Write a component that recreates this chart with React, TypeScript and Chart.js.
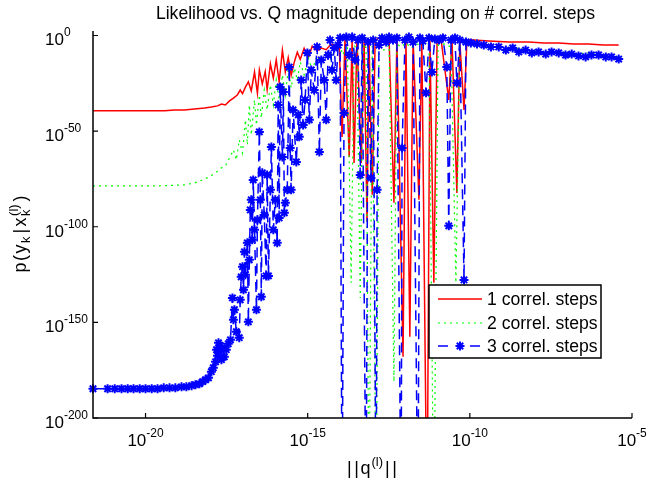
import { useEffect, useRef } from 'react';
import { Chart, registerables } from 'chart.js';

Chart.register(...registerables);

const FONT = '"Liberation Sans", Arial, Helvetica, sans-serif';

const TITLE = 'Likelihood vs. Q magnitude depending on # correl. steps';
const SERIES_NAMES = ['1 correl. steps', '2 correl. steps', '3 correl. steps'];
const X_TICK_EXPONENTS = [-20, -15, -10, -5];
const Y_TICK_EXPONENTS = [0, -50, -100, -150, -200];
const X_MIN_EXP = -21.62;
const X_MAX_EXP = -5;
const Y_MIN_EXP = -200;
const Y_MAX_EXP = 2.35;

// values stored as log10 exponents (x = ||q||, y = likelihood); -260 = below axis floor
const redLogX = [-21.62,-20.80,-19.87,-19.41,-19.11,-18.80,-18.49,-18.18,-17.97,-17.78,
  -17.66,-17.54,-17.41,-17.29,-17.17,-17.08,-17.01,-16.92,-16.83,-16.74,
  -16.64,-16.55,-16.49,-16.40,-16.31,-16.25,-16.15,-16.06,-15.97,-15.88,
  -15.78,-15.69,-15.60,-15.51,-15.41,-15.32,-15.23,-15.11,-14.98,-14.86,
  -14.71,-14.58,-14.43,-14.28,-14.15,-14.03,-13.94,-13.85,-13.72,-13.63,
  -13.57,-13.48,-13.35,-13.26,-13.17,-13.11,-13.01,-12.92,-12.80,-12.65,
  -12.49,-12.34,-12.25,-12.06,-11.97,-11.85,-11.75,-11.57,-11.48,-11.32,
  -11.23,-11.11,-11.01,-10.89,-10.65,-10.55,-10.40,-10.31,-10.18,-10.09,
  -9.88,-9.41,-8.80,-8.18,-7.72,-7.26,-6.80,-6.34,-5.88,-5.41];
const redLogY = [-39.4,-39.4,-39.4,-39.4,-38.9,-38.9,-38.4,-37.9,-37.4,-36.8,
  -35.8,-36.3,-34.2,-32.7,-31.1,-28.5,-30.4,-27.0,-24.2,-29.0,
  -19.1,-30.2,-18.0,-25.3,-18.9,-28.3,-14.8,-22.3,-12.8,-24.2,
  -7.7,-19.1,-11.6,-20.9,-13.7,-8.8,-12.5,-6.7,-11.5,-5.6,
  -8.0,-6.6,-7.4,-4.5,-5.4,-2.4,-53.0,-1.8,-63.5,-2.4,
  -66.6,-1.3,-66.6,-2.4,-97.4,-1.8,-83.3,-2.4,-1.3,-3.4,
  -1.8,-87.5,-1.3,-168.0,-2.4,-157.5,-1.8,-85.9,-2.4,-260,
  -2.9,-129.3,-2.4,-1.8,-33.7,-2.4,-82.3,-2.9,-38.9,-2.4,
  -2.4,-2.9,-3.4,-3.4,-3.9,-3.9,-4.4,-4.4,-5.0,-5.0];

const greenLogX = [-21.62,-20.49,-19.57,-18.80,-18.49,-18.24,-18.03,-17.84,-17.66,-17.54,
  -17.41,-17.29,-17.20,-17.11,-17.01,-16.92,-16.86,-16.80,-16.74,-16.64,
  -16.58,-16.49,-16.43,-16.34,-16.25,-16.15,-16.06,-15.97,-15.88,-15.78,
  -15.69,-15.60,-15.51,-15.41,-15.32,-15.23,-15.11,-14.98,-14.86,-14.71,
  -14.58,-14.43,-14.28,-14.15,-14.03,-13.91,-13.78,-13.66,-13.57,-13.48,
  -13.38,-13.29,-13.20,-13.11,-13.01,-12.89,-12.80,-12.65,-12.49,-12.34,
  -12.25,-12.12,-11.97,-11.81,-11.63,-11.45,-11.26,-11.11,-10.98,-10.80,
  -10.58,-10.43,-10.31,-10.15,-9.97,-9.72,-9.41,-9.11,-8.80,-8.49,
  -8.18,-7.72,-7.26,-6.80,-6.34,-6.03,-5.72,-5.41];
const greenLogY = [-78.6,-78.6,-78.6,-78.1,-77.1,-75.5,-73.9,-71.8,-69.2,-68.2,
  -64.0,-59.8,-65.0,-54.6,-61.4,-44.1,-57.2,-36.3,-52.0,-33.7,
  -46.8,-31.1,-43.1,-28.5,-38.9,-25.9,-36.3,-23.3,-33.7,-20.6,
  -31.1,-18.0,-27.4,-17.0,-23.3,-13.8,-20.6,-11.8,-18.0,-10.7,
  -15.4,-8.6,-12.8,-6.5,-5.0,-10.2,-3.4,-129.3,-5.0,-7.6,
  -137.2,-4.4,-6.5,-260,-5.5,-260,-4.4,-7.6,-5.0,-181.0,
  -4.4,-6.0,-3.9,-6.5,-4.4,-5.5,-3.9,-260,-5.0,-4.4,
  -6.0,-129.3,-5.5,-4.4,-5.5,-5.0,-6.5,-5.5,-7.6,-6.5,
  -7.6,-8.6,-8.1,-9.7,-9.1,-10.2,-9.7,-11.2];

const blueLogX = [-21.62,-21.17,-20.95,-20.74,-20.55,-20.37,-20.18,-20.00,-19.81,-19.63,
  -19.44,-19.26,-19.08,-18.89,-18.74,-18.58,-18.46,-18.34,-18.24,-18.15,
  -18.06,-17.97,-17.91,-17.84,-17.81,-17.78,-17.75,-17.72,-17.69,-17.66,
  -17.63,-17.57,-17.51,-17.45,-17.38,-17.32,-17.29,-17.26,-17.20,-17.11,
  -17.08,-17.05,-17.01,-16.98,-16.95,-16.92,-16.86,-16.83,-16.80,-16.77,
  -16.74,-16.71,-16.68,-16.64,-16.58,-16.55,-16.49,-16.46,-16.43,-16.40,
  -16.34,-16.28,-16.25,-16.21,-16.15,-16.12,-16.06,-16.00,-15.94,-15.91,
  -15.88,-15.85,-15.78,-15.75,-15.72,-15.69,-15.63,-15.57,-15.54,-15.51,
  -15.45,-15.35,-15.29,-15.26,-15.20,-15.14,-15.08,-15.01,-14.95,-14.89,
  -14.80,-14.71,-14.64,-14.58,-14.49,-14.43,-14.37,-14.31,-14.25,-14.18,
  -14.12,-14.06,-14.00,-13.94,-13.88,-13.81,-13.72,-13.63,-13.54,-13.45,
  -13.38,-13.32,-13.20,-13.14,-13.05,-12.98,-12.89,-12.86,-12.80,-12.71,
  -12.58,-12.49,-12.37,-12.25,-12.12,-12.09,-12.00,-11.88,-11.75,-11.60,
  -11.54,-11.45,-11.35,-11.26,-11.17,-11.08,-10.95,-10.83,-10.71,-10.65,
  -10.58,-10.46,-10.40,-10.31,-10.18,-10.12,-9.97,-9.78,-9.57,-9.35,
  -9.11,-8.89,-8.68,-8.49,-8.28,-8.09,-7.88,-7.66,-7.48,-7.26,
  -7.05,-6.86,-6.65,-6.43,-6.25,-6.03,-5.81,-5.63,-5.41];
const blueLogY = [-184.7,-184.7,-184.7,-184.7,-184.7,-184.7,-184.7,-184.7,-184.7,-184.7,
  -184.2,-184.2,-184.2,-183.7,-183.7,-183.1,-182.6,-182.1,-181.0,-180.0,
  -179.0,-175.8,-173.7,-170.6,-164.3,-167.5,-160.7,-165.4,-162.2,-169.5,
  -163.3,-168.0,-164.3,-161.2,-159.1,-137.2,-148.6,-143.4,-154.9,-158.0,
  -138.2,-126.2,-120.9,-133.0,-113.1,-125.1,-108.4,-149.7,-117.3,-91.2,
  -85.9,-106.8,-75.5,-101.6,-143.4,-96.4,-50.4,-85.9,-136.6,-71.8,
  -93.8,-125.7,-72.9,-125.7,-80.7,-58.3,-101.6,-85.9,-108.4,-36.3,
  -95.4,-26.9,-63.5,-29.5,-92.7,-87.5,-80.7,-16.5,-58.8,-80.7,
  -38.9,-66.1,-41.5,-53.0,-23.3,-46.8,-33.7,-9.1,-44.1,-18.0,
  -28.5,-6.0,-60.9,-12.8,-23.3,-44.1,-10.2,-2.4,-18.0,-6.5,
  -23.3,-5.0,-1.3,-260,-40.5,-0.8,-10.2,-0.8,-12.8,-2.4,
  -72.9,-1.3,-260,-3.4,-74.5,-2.4,-260,-80.7,-5.0,-1.3,
  -3.4,-0.8,-2.4,-1.3,-260,-58.8,-2.4,-0.8,-3.4,-260,
  -1.3,-2.9,-30.0,-1.3,-19.1,-1.8,-2.4,-1.3,-16.5,-99.5,
  -2.4,-1.3,-24.8,-2.4,-127.8,-3.4,-3.9,-4.4,-5.0,-6.0,
  -6.0,-7.6,-6.5,-8.6,-7.6,-9.1,-8.6,-9.7,-8.6,-9.1,
  -10.2,-9.7,-10.7,-11.2,-10.2,-10.2,-11.2,-11.2,-12.3];

const COLORS = ['#ff0000', '#00ff00', '#0000ff'];

const toPoints = (lx: number[], ly: number[]) =>
  lx.map((e, i) => ({ x: Math.pow(10, e), y: Math.pow(10, ly[i]) }));

function font(size: number) {
  return `${size}px ${FONT}`;
}

type Run = { t: string; s: number; dy: number; gap?: number; stack?: { t: string; s: number; dy: number } };

function runWidth(ctx: CanvasRenderingContext2D, r: Run) {
  ctx.font = font(r.s);
  let rw = ctx.measureText(r.t).width;
  if (r.stack) {
    ctx.font = font(r.stack.s);
    rw = Math.max(rw, ctx.measureText(r.stack.t).width);
  }
  return rw + (r.gap || 0);
}

function runsWidth(ctx: CanvasRenderingContext2D, runs: Run[]) {
  let w = 0;
  for (const r of runs) w += runWidth(ctx, r);
  return w;
}

function drawRuns(ctx: CanvasRenderingContext2D, runs: Run[], x: number, y: number) {
  let cx = x;
  ctx.textAlign = 'left';
  ctx.textBaseline = 'alphabetic';
  for (const r of runs) {
    const rw = runWidth(ctx, r);
    ctx.font = font(r.s);
    ctx.fillText(r.t, cx, y + r.dy);
    if (r.stack) {
      ctx.font = font(r.stack.s);
      ctx.fillText(r.stack.t, cx, y + r.stack.dy);
    }
    cx += rw;
  }
}

function expLabel(e: number): Run[] {
  return [
    { t: '10', s: 17, dy: 0 },
    { t: String(e), s: 12, dy: -9 },
  ];
}

const overlay = {
  id: 'matlabOverlay',
  beforeDatasetsDraw(chart: any) {
    const { ctx } = chart;
    ctx.save();
    ctx.fillStyle = '#ffffff';
    ctx.fillRect(0, 0, chart.width, chart.height);
    ctx.restore();
  },
  afterDraw(chart: any) {
    const { ctx, chartArea: a, scales } = chart;
    const xs = scales.x;
    const ys = scales.y;
    ctx.save();
    ctx.fillStyle = '#000';
    ctx.strokeStyle = '#000';
    ctx.setLineDash([]);
    // axis lines
    ctx.lineWidth = 1.5;
    ctx.beginPath();
    ctx.moveTo(a.left, a.top);
    ctx.lineTo(a.left, a.bottom);
    ctx.lineTo(a.right, a.bottom);
    ctx.stroke();
    // ticks (inward)
    ctx.lineWidth = 1.2;
    ctx.beginPath();
    for (const e of Y_TICK_EXPONENTS) {
      const py = ys.getPixelForValue(Math.pow(10, e));
      ctx.moveTo(a.left, py);
      ctx.lineTo(a.left + 5, py);
    }
    for (const e of X_TICK_EXPONENTS) {
      const px = xs.getPixelForValue(Math.pow(10, e));
      ctx.moveTo(px, a.bottom);
      ctx.lineTo(px, a.bottom - 5);
    }
    ctx.stroke();
    // y tick labels
    for (const e of Y_TICK_EXPONENTS) {
      const py = ys.getPixelForValue(Math.pow(10, e));
      drawRuns(ctx, expLabel(e), 45, py + 10);
    }
    // x tick labels
    for (const e of X_TICK_EXPONENTS) {
      const px = xs.getPixelForValue(Math.pow(10, e));
      const runs = expLabel(e);
      const w = runsWidth(ctx, runs);
      drawRuns(ctx, runs, px - w / 2, a.bottom + 28);
    }
    // title
    ctx.font = font(17.6);
    ctx.textAlign = 'center';
    ctx.textBaseline = 'alphabetic';
    ctx.fillText(TITLE, (a.left + a.right) / 2 + 13, 19);
    // x label
    const xl: Run[] = [
      { t: '|', s: 18, dy: 0, gap: 2.5 },
      { t: '|', s: 18, dy: 0, gap: 1.5 },
      { t: 'q', s: 18, dy: 0, gap: 1 },
      { t: '(l)', s: 13, dy: -8, gap: 2 },
      { t: '|', s: 18, dy: 0, gap: 2.5 },
      { t: '|', s: 18, dy: 0 },
    ];
    const xw = runsWidth(ctx, xl);
    drawRuns(ctx, xl, 372 - xw / 2, 474);
    // y label (rotated)
    const yl: Run[] = [
      { t: 'p', s: 18, dy: 0, gap: 1.5 },
      { t: '(', s: 18, dy: 0, gap: 1.5 },
      { t: 'y', s: 18, dy: 0, gap: 1.5 },
      { t: 'k', s: 13, dy: 4, gap: 3 },
      { t: '|', s: 18, dy: 0, gap: 2.5 },
      { t: 'x', s: 18, dy: 0, gap: 1.5 },
      { t: 'k', s: 13, dy: 4, gap: 3, stack: { t: '(l)', s: 13, dy: -8 } },
      { t: ')', s: 18, dy: 0 },
    ];
    const yw = runsWidth(ctx, yl);
    ctx.save();
    ctx.translate(26, 234);
    ctx.rotate(-Math.PI / 2);
    drawRuns(ctx, yl, -yw / 2, 0);
    ctx.restore();

    // legend
    const lx = 429, ly = 285, lw = 172, lh = 73;
    ctx.fillStyle = '#ffffff';
    ctx.fillRect(lx, ly, lw, lh);
    ctx.lineWidth = 1.5;
    ctx.strokeStyle = '#000';
    ctx.strokeRect(lx, ly, lw, lh);
    const rows = [299, 323, 346];
    const dashes = [[], [2, 4], [10, 6]];
    const widths = [1.5, 1.2, 1.5];
    for (let i = 0; i < 3; i++) {
      const y = rows[i];
      ctx.strokeStyle = COLORS[i];
      ctx.lineWidth = widths[i];
      ctx.setLineDash(dashes[i]);
      ctx.beginPath();
      if (i === 2) {
        ctx.moveTo(438, y); ctx.lineTo(450, y);
        ctx.moveTo(470, y); ctx.lineTo(482, y);
      } else {
        ctx.moveTo(438, y); ctx.lineTo(482, y);
      }
      ctx.stroke();
      ctx.setLineDash([]);
      if (i === 2) {
        const r = 4.5, cx = 460;
        ctx.lineWidth = 2;
        ctx.beginPath();
        ctx.moveTo(cx - r, y); ctx.lineTo(cx + r, y);
        ctx.moveTo(cx, y - r); ctx.lineTo(cx, y + r);
        const d = r * Math.SQRT1_2;
        ctx.moveTo(cx - d, y - d); ctx.lineTo(cx + d, y + d);
        ctx.moveTo(cx - d, y + d); ctx.lineTo(cx + d, y - d);
        ctx.stroke();
      }
      ctx.fillStyle = '#000';
      ctx.font = font(17.6);
      ctx.textAlign = 'left';
      ctx.textBaseline = 'middle';
      ctx.fillText(SERIES_NAMES[i], 487, y + 1);
    }
    ctx.restore();
  },
};

export default function App() {
  const ref = useRef<HTMLCanvasElement>(null);
  useEffect(() => {
    document.body.style.margin = '0';
    const canvas = ref.current;
    if (!canvas) return;
    const clip = { left: 8, top: 8, right: 8, bottom: 0 };
    const chart = new Chart(canvas, {
      type: 'line',
      data: {
        datasets: [
          {
            label: SERIES_NAMES[0],
            data: toPoints(redLogX, redLogY),
            borderColor: COLORS[0],
            borderWidth: 1.5,
            pointRadius: 0,
            fill: false,
            order: 3,
            clip,
          },
          {
            label: SERIES_NAMES[1],
            data: toPoints(greenLogX, greenLogY),
            borderColor: COLORS[1],
            borderWidth: 1.2,
            borderDash: [2, 4],
            pointRadius: 0,
            fill: false,
            order: 2,
            clip,
          },
          {
            label: SERIES_NAMES[2],
            data: toPoints(blueLogX, blueLogY),
            borderColor: COLORS[2],
            backgroundColor: COLORS[2],
            borderWidth: 1.5,
            borderDash: [10, 6],
            pointStyle: 'star',
            pointRadius: 4.5,
            pointBorderWidth: 2,
            pointBorderColor: COLORS[2],
            pointBackgroundColor: COLORS[2],
            fill: false,
            order: 1,
            clip,
          },
        ] as any,
      },
      options: {
        animation: false,
        responsive: false,
        devicePixelRatio: 1,
        events: [],
        layout: { padding: { left: 93, top: 31, right: 15, bottom: 64 } },
        plugins: { legend: { display: false }, tooltip: { enabled: false }, title: { display: false } },
        scales: {
          x: {
            type: 'logarithmic',
            display: false,
            min: Math.pow(10, X_MIN_EXP),
            max: Math.pow(10, X_MAX_EXP),
            afterBuildTicks: (s: any) => { s.ticks = X_TICK_EXPONENTS.map((e) => ({ value: Math.pow(10, e) })); },
          },
          y: {
            type: 'logarithmic',
            display: false,
            min: Math.pow(10, Y_MIN_EXP),
            max: Math.pow(10, Y_MAX_EXP),
            afterBuildTicks: (s: any) => { s.ticks = Y_TICK_EXPONENTS.map((e) => ({ value: Math.pow(10, e) })); },
          },
        },
      } as any,
      plugins: [overlay],
    });
    return () => chart.destroy();
  }, []);
  return (
    <div style={{ width: 647, height: 482 }}>
      <canvas ref={ref} width={647} height={482} style={{ display: 'block' }} />
    </div>
  );
}
